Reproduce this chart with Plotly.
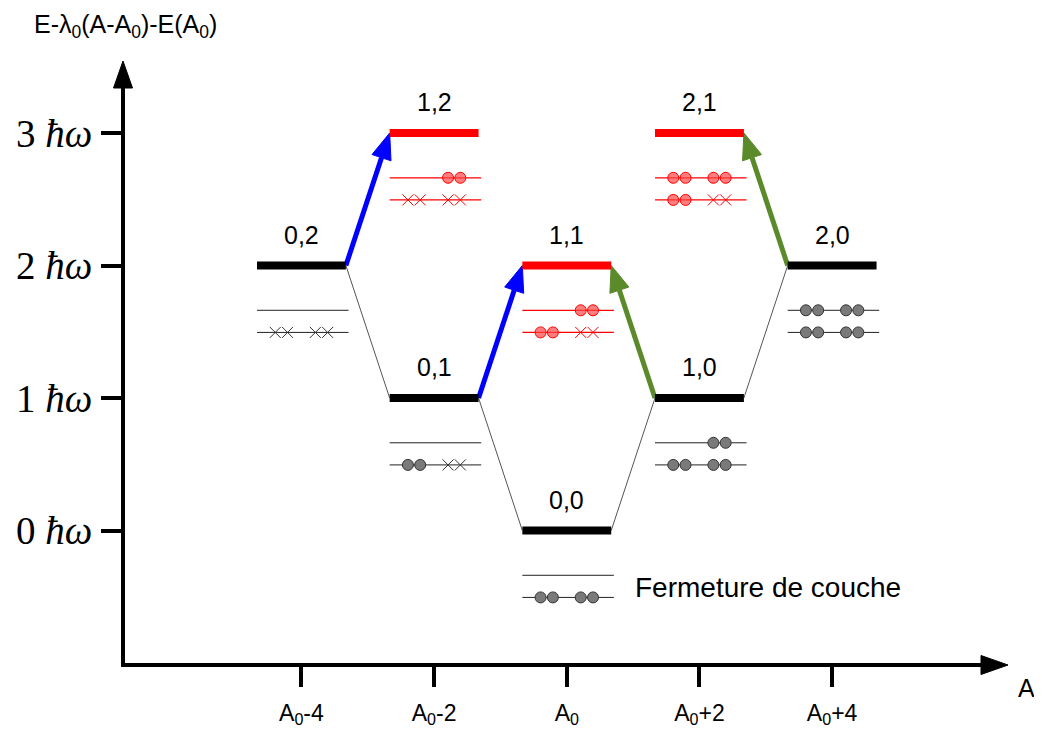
import numpy as np
import plotly.graph_objects as go

# ---------------- data ----------------
tick_pos = [-4, -2, 0, 2, 4]                      # A - A0
tick_text = ["A<sub>0</sub>-4", "A<sub>0</sub>-2", "A<sub>0</sub>",
             "A<sub>0</sub>+2", "A<sub>0</sub>+4"]
y_tick_pos = [0, 1, 2, 3]                         # energy in units of hbar*omega
y_tick_text = ["0 <i>ħω</i>", "1 <i>ħω</i>", "2 <i>ħω</i>", "3 <i>ħω</i>"]

level_names = ["0,2", "0,1", "0,0", "1,0", "2,0", "1,2", "1,1", "2,1"]
level_A = [-4, -2, 0, 2, 4, -2, 0, 2]
level_E = [2, 1, 0, 1, 2, 3, 2, 3]
level_excited = [False, False, False, False, False, True, True, True]
# occupation of the two sub-lines: each char = one pair ('-' empty, 'o' particles, 'x' holes)
upper_occ = ["--", "--", "--", "-o", "oo", "-o", "-o", "oo"]
lower_occ = ["xx", "ox", "oo", "oo", "oo", "xx", "ox", "ox"]

ground_path = ["0,2", "0,1", "0,0", "1,0", "2,0"]
blue_arrows = [("0,2", "1,2"), ("0,1", "1,1")]
green_arrows = [("1,0", "1,1"), ("2,0", "2,1")]

axis_title = "E-λ<sub>0</sub>(A-A<sub>0</sub>)-E(A<sub>0</sub>)"
x_label = "A"
note_text = "Fermeture de couche"

# ---------------- layout / style ----------------
OFF = 8                                  # page body margin
W, H = 1042 - OFF, 735 - OFF
PL, PR, PT, PB = 125 - OFF, 990 - OFF, 80 - OFF, 663 - OFF   # plot box (figure px)
XR = [-6.66, 6.38]
YR = [-1.0, 3.4]
PX_X = (PR - PL) / (XR[1] - XR[0])
PX_Y = (PB - PT) / (YR[1] - YR[0])

HALF = 0.67
SUB_DY = [-0.338, -0.505]
SLOTS = [(-0.395, -0.21), (0.21, 0.395)]
RED = "#ff0000"
BLUE = "#0000ff"
GREEN = "#5b8a2a"
SANS = "Liberation Sans, Arial, sans-serif"
SERIF = "Liberation Serif, Times New Roman, serif"

idx = {n: i for i, n in enumerate(level_names)}

fig = go.Figure()

# connectors between ground levels
for a, b in zip(ground_path[:-1], ground_path[1:]):
    ia, ib = idx[a], idx[b]
    fig.add_trace(go.Scatter(x=[level_A[ia] + HALF, level_A[ib] - HALF],
                             y=[level_E[ia], level_E[ib]], mode="lines",
                             line=dict(color="#555555", width=1)))


def arrow(xt, yt, xh, yh, color, hl=26, hw=10, sw=5):
    dx = (xh - xt) * PX_X
    dy = (yh - yt) * PX_Y
    L = np.hypot(dx, dy)
    ux, uy = dx / L, dy / L
    nx, ny = -uy, ux
    bx = xh - hl * ux / PX_X
    by = yh - hl * uy / PX_Y
    fig.add_trace(go.Scatter(x=[xt, bx], y=[yt, by], mode="lines",
                             line=dict(color=color, width=sw)))
    tx = [xh, bx + hw * nx / PX_X, bx - hw * nx / PX_X, xh]
    ty = [yh, by + hw * ny / PX_Y, by - hw * ny / PX_Y, yh]
    fig.add_trace(go.Scatter(x=tx, y=ty, mode="lines", fill="toself",
                             fillcolor=color, line=dict(color=color, width=1)))


for a, b in blue_arrows:
    ia, ib = idx[a], idx[b]
    arrow(level_A[ia] + HALF, level_E[ia], level_A[ib] - HALF, level_E[ib], BLUE)
for a, b in green_arrows:
    ia, ib = idx[a], idx[b]
    arrow(level_A[ia] - HALF, level_E[ia], level_A[ib] + HALF, level_E[ib], GREEN)

# main level bars
for i, n in enumerate(level_names):
    c = RED if level_excited[i] else "black"
    fig.add_trace(go.Scatter(x=[level_A[i] - HALF, level_A[i] + HALF],
                             y=[level_E[i], level_E[i]], mode="lines",
                             line=dict(color=c, width=8)))

# sub-lines and occupations
circ = {False: ([], []), True: ([], [])}
cross = {False: ([], []), True: ([], [])}
for i, n in enumerate(level_names):
    ex = level_excited[i]
    c = RED if ex else "#222222"
    for dy, occ in zip(SUB_DY, [upper_occ[i], lower_occ[i]]):
        y = level_E[i] + dy
        fig.add_trace(go.Scatter(x=[level_A[i] - HALF, level_A[i] + HALF + 0.04],
                                 y=[y, y], mode="lines",
                                 line=dict(color=c, width=1.3 if ex else 1)))
        for pair, slot in zip(occ, SLOTS):
            target = circ if pair == "o" else cross if pair == "x" else None
            if target is None:
                continue
            for s in slot:
                target[ex][0].append(level_A[i] + s)
                target[ex][1].append(y)

for ex in (False, True):
    fig.add_trace(go.Scatter(
        x=cross[ex][0], y=cross[ex][1], mode="markers",
        marker=dict(symbol="x-thin", size=11,
                    line=dict(color=RED if ex else "#333333", width=1))))
    fig.add_trace(go.Scatter(
        x=circ[ex][0], y=circ[ex][1], mode="markers",
        marker=dict(symbol="circle", size=11,
                    color="rgba(255,70,70,0.7)" if ex else "#7a7a7a",
                    line=dict(color=RED if ex else "#333333", width=1))))

# level labels
annotations = []
for i, n in enumerate(level_names):
    annotations.append(dict(x=level_A[i], y=level_E[i], text=n, showarrow=False,
                            yshift=31, font=dict(family=SANS, size=25, color="black")))

annotations.append(dict(x=1.0, y=-0.43, text=note_text, showarrow=False,
                        xanchor="left", yanchor="middle",
                        font=dict(family=SANS, size=28, color="black")))


def P(px, py):
    """screen pixel -> paper coordinate"""
    return (px - OFF) / W, 1 - (py - OFF) / H


tx, ty = P(125, 8)
annotations.append(dict(xref="paper", yref="paper", x=tx, y=ty,
                        xanchor="center", yanchor="top",
                        text=axis_title, showarrow=False,
                        font=dict(family=SANS, size=25, color="black")))
tx, ty = P(1026, 688)
annotations.append(dict(xref="paper", yref="paper", x=tx, y=ty,
                        xanchor="center", yanchor="middle",
                        text=x_label, showarrow=False,
                        font=dict(family=SANS, size=25, color="black")))

# axis arrowheads (paper coordinates)
shapes = []
ax_x = 123
ax_y = 665
pts = [P(ax_x, 61), P(ax_x - 9.5, 88), P(ax_x + 9.5, 88)]
shapes.append(dict(type="path", xref="paper", yref="paper",
                   path="M{} {} L{} {} L{} {} Z".format(*[v for p in pts for v in p]),
                   fillcolor="black", line=dict(color="black", width=1)))
pts = [P(1008, ax_y), P(981, ax_y - 9.5), P(981, ax_y + 9.5)]
shapes.append(dict(type="path", xref="paper", yref="paper",
                   path="M{} {} L{} {} L{} {} Z".format(*[v for p in pts for v in p]),
                   fillcolor="black", line=dict(color="black", width=1)))

fig.update_layout(
    width=W, height=H,
    margin=dict(l=0, r=0, t=0, b=0),
    paper_bgcolor="white", plot_bgcolor="white",
    showlegend=False, hovermode=False,
    annotations=annotations, shapes=shapes,
    xaxis=dict(domain=[PL / W, PR / W], range=XR, showgrid=False, zeroline=False,
               showline=True, linewidth=4, linecolor="black",
               tickmode="array", tickvals=tick_pos, ticktext=tick_text,
               ticks="outside", ticklen=20, tickwidth=4, tickcolor="black",
               ticklabelstandoff=6,
               tickfont=dict(family=SANS, size=23, color="black")),
    yaxis=dict(domain=[1 - PB / H, 1 - PT / H], range=YR, showgrid=False, zeroline=False,
               showline=True, linewidth=4, linecolor="black",
               tickmode="array", tickvals=y_tick_pos, ticktext=y_tick_text,
               ticks="outside", ticklen=20, tickwidth=4, tickcolor="black",
               ticklabelstandoff=1,
               tickfont=dict(family=SERIF, size=39, color="black")),
)

fig.write_html("out.html")
